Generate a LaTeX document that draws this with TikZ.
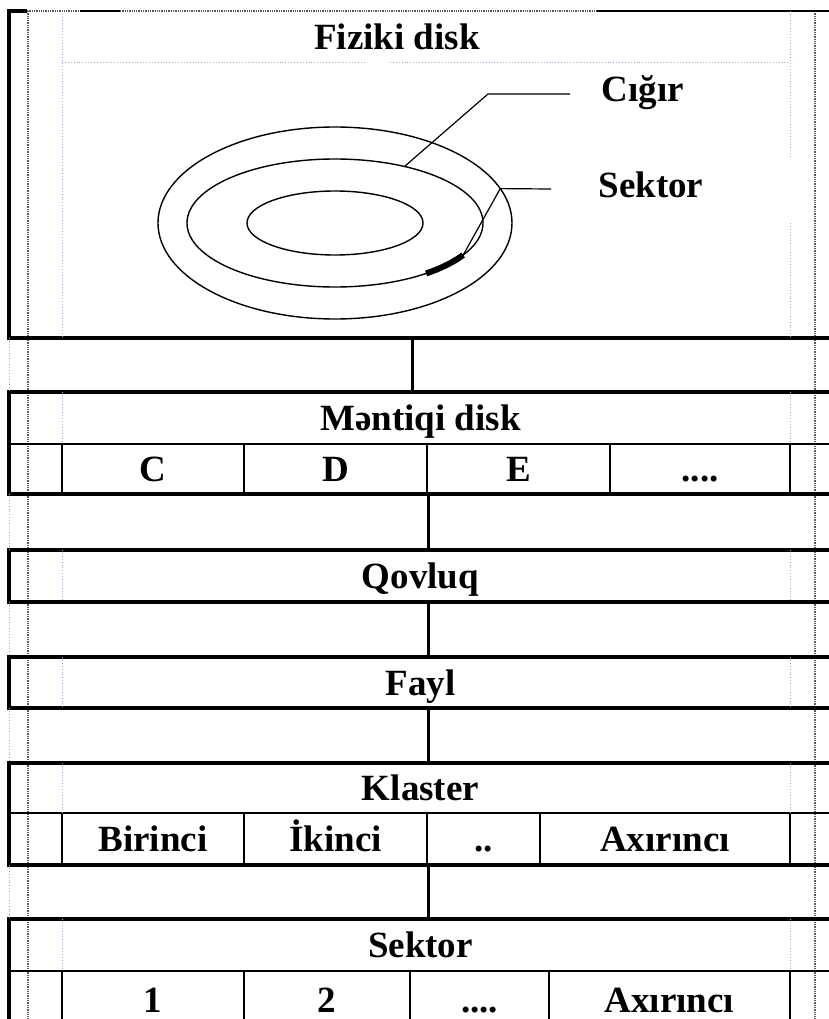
\documentclass[tikz,border=0pt]{standalone}
\usepackage{fontspec}
\setmainfont{Liberation Serif}
\usetikzlibrary{positioning, calc}
\definecolor{guideblue}{HTML}{9AAED0}
\newcommand{\fourdots}{....}
\newcommand{\twodots}{..}

\begin{document}
\begin{tikzpicture}[x=1pt, y=-1pt, line width=2pt, font=\bfseries\fontsize{37}{40}\selectfont]
% Block styles
\tikzstyle{boxframe}=[inner sep=0pt, outer sep=0pt, draw=black, line width=3.5pt, minimum width=823pt, text height=25pt, text depth=0pt]
\tikzstyle{head}=[inner sep=0pt, outer sep=0pt, minimum width=823pt, minimum height=52pt, text height=25pt, text depth=0pt]
\tikzstyle{cell}=[inner sep=0pt, outer sep=0pt, draw=black, line width=2pt, anchor=north west, text height=25pt, text depth=0pt]
\tikzstyle{conn}=[line width=3pt]
\tikzstyle{gridline}=[densely dotted, line width=1.3pt, black!65]
\tikzstyle{guide}=[dotted, line width=.9pt, guideblue]
\tikzstyle{track}=[line width=1.4pt]
\useasboundingbox (0,0) rectangle (828,1019);
\coordinate (g1) at (62,0);
\coordinate (g2) at (790,0);
\coordinate (c1) at (412,0);
\coordinate (c2) at (428,0);
% Table grid
\draw[gridline] (28,11) -- (28,1019) (815,11) -- (815,1019);
% Fiziki disk
\node[boxframe, draw=none, minimum height=327pt, anchor=north west] (phys) at (9,11) {};
\node[anchor=base] (fiz) at (397,50) {Fiziki disk};
\draw[line width=3.5pt] (27,11) -- (phys.north west) -- (phys.south west) -- (phys.south east);
\draw[gridline] (27,11) -- (80,11) (120,11) -- (597,11);
\draw[line width=1.5pt] (80,11) -- (120,11) (597,11) -- (phys.north east);
\draw[guide] (62,11) -- (62,338) (62,62) -- (365,62) (390,62) -- (790,62) (790,11) -- (790,158) (790,223) -- (790,338);
% Disk with tracks
\coordinate (disk) at (335,223);
\draw[track] (disk) ellipse (177pt and 96pt);
\draw[track] (disk) ellipse (148pt and 64pt);
\draw[track] (disk) ellipse (88pt and 32pt);
\draw[line width=6pt] ($(disk)+(-52:148pt and 64pt)$) arc (-52:-30:148pt and 64pt) coordinate (sec);
\node[anchor=base] (cig) at (643,102) {Cığır};
\node[anchor=base] (sek) at (651,197) {Sektor};
\coordinate (trk) at ($(disk)+(62:148pt and 64pt)$);
\coordinate (trkEnd) at (570,94);
\coordinate (secBend) at ($(disk)+(21:177pt and 96pt)$);
\coordinate (secEnd) at (551,189);
\draw[line width=1.2pt] (trk) -- (488,94) -- (trkEnd);
\draw[line width=1.2pt] (sec) -- (secBend) -- (secEnd);
% Mentiqi disk
\node[boxframe, minimum height=102pt, below=54pt of phys] (mant) {};
\node[head, anchor=north] (mantH) at (mant.north) {Məntiqi disk};
\foreach \a/\b/\t/\n in {9/62//m0, 62/244/C/m1, 244/427/D/m2, 427/610/E/m3, 610/790/\fourdots/m4, 790/832//m5}
  \node[cell, minimum width=(\b-\a)*1pt, minimum height=50pt] (\n) at (\a,0 |- mantH.south) {\t};
% Qovluq, Fayl
\node[boxframe, minimum height=52pt, below=56pt of mant] (qov) {Qovluq};
\node[boxframe, minimum height=51pt, below=55pt of qov] (fayl) {Fayl};
% Klaster
\node[boxframe, minimum height=102pt, below=55pt of fayl] (klas) {};
\node[head, minimum height=50pt, anchor=north] (klasH) at (klas.north) {Klaster};
\foreach \a/\b/\t/\n in {9/62//k0, 62/244/Birinci/k1, 244/427/İkinci/k2, 427/540/\twodots/k3, 540/790/Axırıncı/k4, 790/832//k5}
  \node[cell, minimum width=(\b-\a)*1pt, minimum height=52pt] (\n) at (\a,0 |- klasH.south) {\t};
% Sektor
\node[boxframe, minimum height=110pt, below=54pt of klas] (sekt) {};
\node[head, anchor=north] (sektH) at (sekt.north) {Sektor};
\foreach \a/\b/\t/\n in {9/62//s0, 62/244/1/s1, 244/410/2/s2, 410/549/\fourdots/s3, 549/790/Axırıncı/s4, 790/832//s5}
  \node[cell, minimum width=(\b-\a)*1pt, minimum height=58pt] (\n) at (\a,0 |- sektH.south) {\t};
% Connectors
\draw[conn] (phys.south -| c1) -- (mant.north -| c1);
\draw[conn] (mant.south -| c2) -- (qov.north -| c2);
\draw[conn] (qov.south -| c2) -- (fayl.north -| c2);
\draw[conn] (fayl.south -| c2) -- (klas.north -| c2);
\draw[conn] (klas.south -| c2) -- (sekt.north -| c2);
% Guides
\foreach \n in {mantH, qov, fayl, klasH, sektH}
  \draw[guide] (\n.north -| g1) -- (\n.south -| g1) (\n.north -| g2) -- (\n.south -| g2);
\draw[guide] (phys.south west) -- (mant.north west) (mant.south west) -- (qov.north west) (qov.south west) -- (fayl.north west) (fayl.south west) -- (klas.north west) (klas.south west) -- (sekt.north west);
\end{tikzpicture}
\end{document}
